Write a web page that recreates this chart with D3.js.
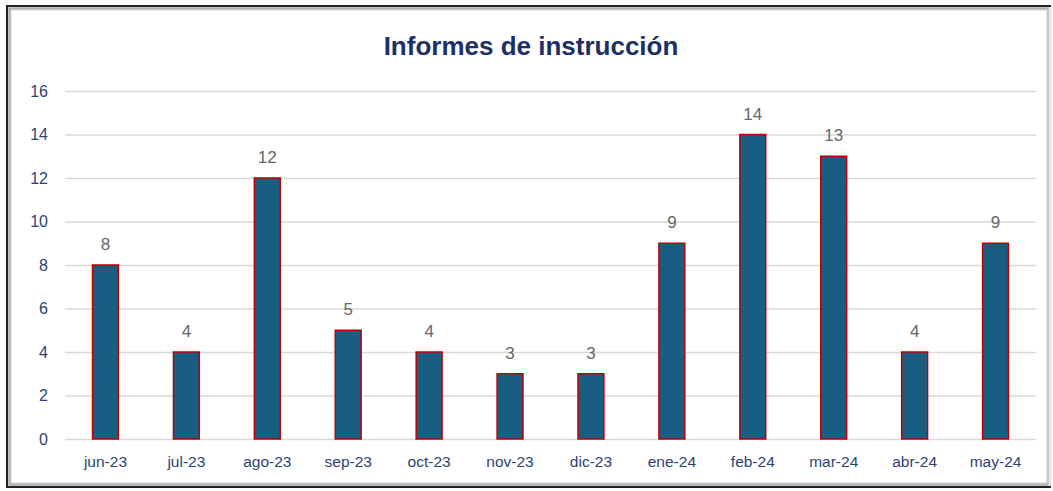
<!doctype html>
<html lang="es">
<head>
<meta charset="utf-8">
<title>Informes de instrucción</title>
<script src="https://cdn.jsdelivr.net/npm/d3@7"></script>
<style>
  html, body { margin: 0; background: #fff; }
  svg { display: block; }
</style>
</head>
<body>
<div id="chart"></div>
<script>
// data
const months = ["jun-23", "jul-23", "ago-23", "sep-23", "oct-23", "nov-23",
                "dic-23", "ene-24", "feb-24", "mar-24", "abr-24", "may-24"];
const informes = [8, 4, 12, 5, 4, 3, 3, 9, 14, 13, 4, 9];
const yTicks = [0, 2, 4, 6, 8, 10, 12, 14, 16];

const width = 1053, height = 491;
const margin = {top: 91, right: 17, bottom: 52, left: 65};
const narrow = "'Liberation Sans Narrow', 'Arial Narrow', 'Liberation Sans', sans-serif";

const svg = d3.select("#chart").append("svg")
    .attr("width", width)
    .attr("height", height);

// frame with a soft inner shadow
svg.append("rect").attr("width", width).attr("height", height).attr("fill", "#fff");
[["#cfcfcf", 4], ["#a9a9a9", 3], ["#8a8a8a", 2]].forEach(([c, d]) => {
  svg.append("rect")
      .attr("x", 7 + d).attr("y", 6 + d)
      .attr("width", 1044 - 2 * d).attr("height", 481 - 2 * d)
      .attr("fill", "none").attr("stroke", c).attr("stroke-width", 1);
});
svg.append("path")
    .attr("d", "M1051,6 H7 V487 H1051")
    .attr("fill", "none").attr("stroke", "#222").attr("stroke-width", 2);
svg.append("line")
    .attr("x1", 1050).attr("x2", 1050).attr("y1", 8).attr("y2", 486)
    .attr("stroke", "#e6e6e6").attr("stroke-width", 3);

const x = d3.scaleBand()
    .domain(months)
    .range([margin.left, width - margin.right])
    .paddingInner(0.68)
    .paddingOuter(0.34);

const y = d3.scaleLinear()
    .domain([0, 16])
    .range([height - margin.bottom, margin.top]);

// gridlines + y labels
const yAxis = svg.append("g")
    .attr("transform", `translate(${margin.left},0)`)
    .call(d3.axisLeft(y).tickValues(yTicks).tickSize(-(width - margin.left - margin.right)).tickPadding(17));
yAxis.select(".domain").remove();
yAxis.selectAll(".tick line").attr("stroke", "#d9d9d9").attr("stroke-width", 1.5);
yAxis.selectAll(".tick text")
    .attr("fill", "#2e4374")
    .style("font-family", narrow)
    .style("font-size", "16px");

// x labels
const xAxis = svg.append("g")
    .attr("transform", `translate(0,${height - margin.bottom})`)
    .call(d3.axisBottom(x).tickSize(0).tickPadding(17));
xAxis.select(".domain").remove();
xAxis.selectAll(".tick text")
    .attr("fill", "#2e4374")
    .style("font-family", narrow)
    .style("font-size", "15.5px");

// bars
svg.append("g").selectAll("rect")
  .data(informes)
  .join("rect")
    .attr("x", (d, i) => x(months[i]))
    .attr("y", d => y(d))
    .attr("width", x.bandwidth())
    .attr("height", d => y(0) - y(d))
    .attr("fill", "#195e82")
    .attr("stroke", "#c00000")
    .attr("stroke-width", 1.5);

// value labels
svg.append("g").selectAll("text")
  .data(informes)
  .join("text")
    .attr("x", (d, i) => x(months[i]) + x.bandwidth() / 2)
    .attr("y", d => y(d) - 15)
    .attr("text-anchor", "middle")
    .attr("fill", "#666")
    .style("font-family", narrow)
    .style("font-size", "17px")
    .text(d => d);

// title
svg.append("text")
    .attr("x", 531)
    .attr("y", 55)
    .attr("text-anchor", "middle")
    .attr("fill", "#1c2f66")
    .style("font-family", narrow)
    .style("font-size", "26px")
    .style("font-weight", "bold")
    .text("Informes de instrucción");
</script>
</body>
</html>
